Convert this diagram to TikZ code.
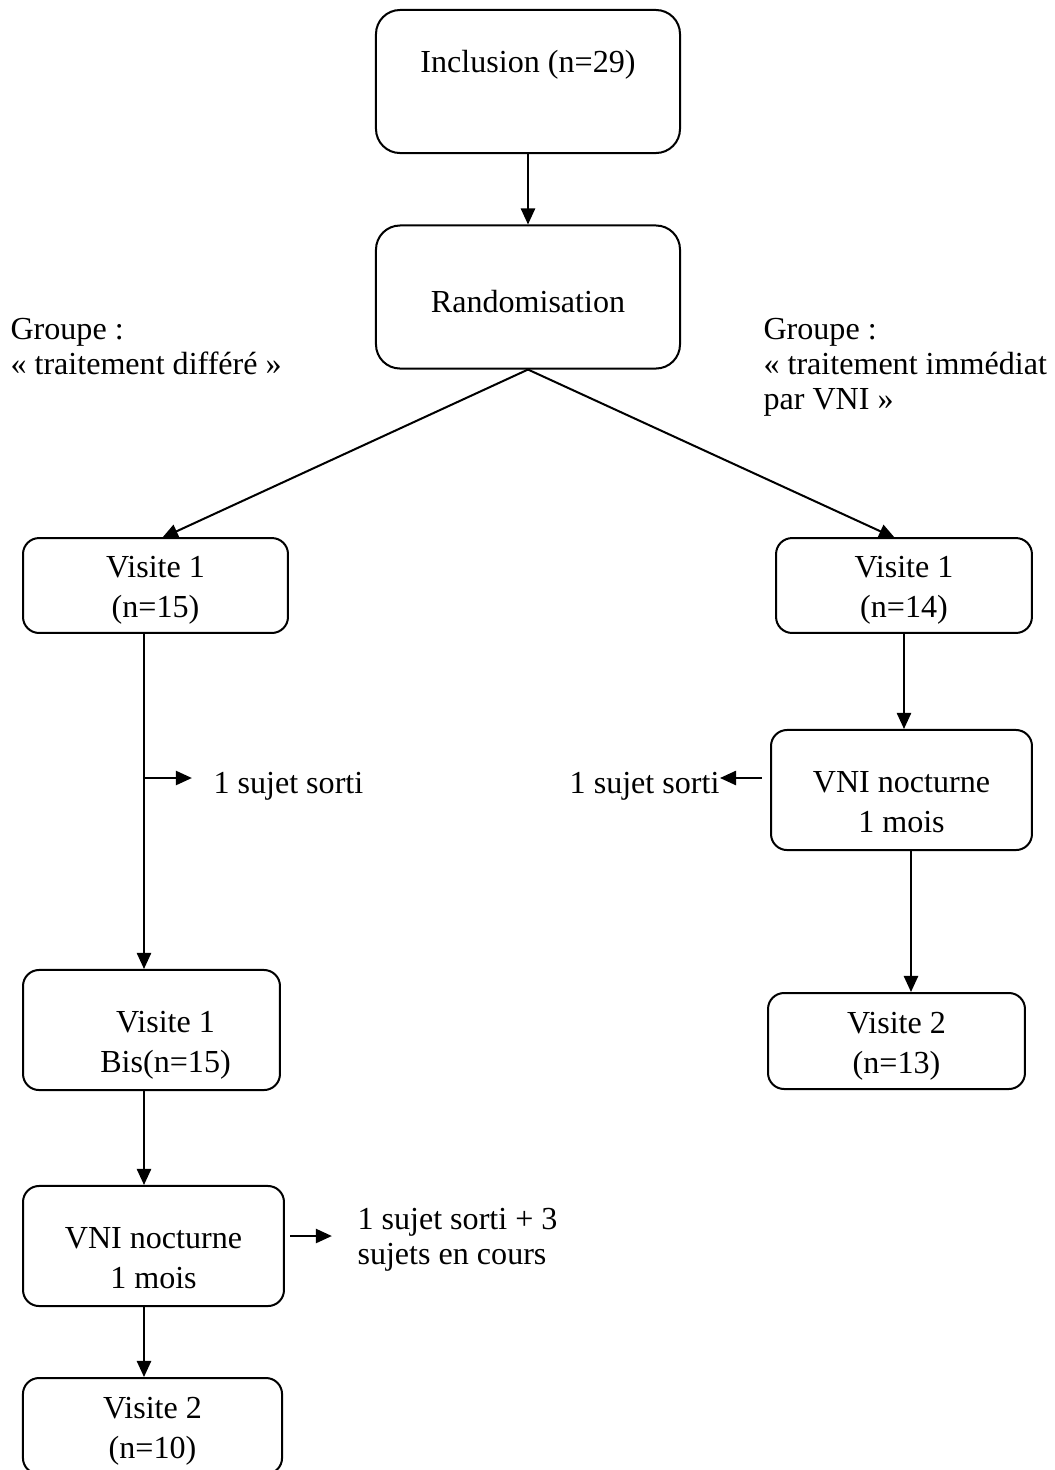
\documentclass[tikz,border=0pt]{standalone}
\usepackage{fontspec}
\setmainfont{Liberation Serif}
\usetikzlibrary{arrows.meta}

\begin{document}
\begin{tikzpicture}[x=0.374pt, y=-0.374pt,
    box/.style={draw, line width=0.75pt, rounded corners=6pt, align=center, inner sep=0pt, font=\fontsize{12}{15}\selectfont},
    lbl/.style={align=left, inner sep=0pt, font=\fontsize{12}{13}\selectfont},
    arr/.style={line width=0.75pt, -{Triangle[length=6pt,width=5.3pt]}}]
    \useasboundingbox (0,0) rectangle (1054,1470);

    % Define coordinates for the columns, rows and arrow tips
    \coordinate (colL) at (144,0);
    \coordinate (colR) at (904,0);
    \coordinate (colR2) at (911,0);
    \coordinate (rowA) at (0,778);
    \coordinate (rowB) at (0,1236);
    \coordinate (tipL) at (162,538);
    \coordinate (tipR) at (895,538);

    % Common trunk
    \node[box, rounded corners=9pt, minimum width=113.7pt, minimum height=53.5pt] (incl) at (528,81.5) {\rule{0pt}{11.8pt}Inclusion (n=29)\rule[-18.2pt]{0pt}{18.2pt}};
    \node[box, rounded corners=9pt, minimum width=113.7pt, minimum height=53.5pt] (rand) at (528,297) {\rule{0pt}{11.8pt}Randomisation};
    \draw[arr] (incl) -- (rand);

    % Group labels
    \node[lbl, anchor=north west] (grpL) at (10,318) {Groupe :\\« traitement différé »};
    \node[lbl, anchor=north west] (grpR) at (763,318) {Groupe :\\« traitement immédiat\\par VNI »};

    % Left branch: deferred treatment
    \node[box, minimum width=99.1pt, minimum height=35.5pt] (visL1) at (155.5,585.5) {\rule{0pt}{11.8pt}Visite 1\\(n=15)};
    \node[box, minimum width=96.1pt, minimum height=44.9pt] (visL1b) at (151.5,1030) {\hspace*{10.5pt}\rule{0pt}{19.5pt}Visite 1\\\hspace*{10.5pt}Bis(n=15)};
    \node[box, minimum width=97.6pt, minimum height=44.9pt] (vniL) at (153.5,1246) {\rule{0pt}{17pt}VNI nocturne\\1 mois};
    \node[box, minimum width=96.9pt, minimum height=35.9pt] (visL2) at (152.5,1426) {\rule{0pt}{11.8pt}Visite 2\\(n=10)};
    \node[lbl, anchor=base west] (sortiL) at (213,793) {1 sujet sorti};
    \node[lbl, anchor=north west] (encours) at (357,1208) {1 sujet sorti + 3\\sujets en cours};

    \draw[arr] (rand.south) -- (tipL);
    \draw[arr] (visL1.south -| colL) -- (visL1b.north -| colL);
    \draw[arr, shorten >=7.9pt] (colL |- rowA) -- (sortiL.west |- rowA);
    \draw[arr] (visL1b.south -| colL) -- (vniL.north -| colL);
    \draw[arr] (vniL.south -| colL) -- (visL2.north -| colL);
    \draw[arr, shorten <=2pt, shorten >=9.4pt] (vniL.east |- rowB) -- (encours.west |- rowB);

    % Right branch: immediate treatment
    \node[box, minimum width=95.7pt, minimum height=35.5pt] (visR1) at (904,585.5) {\rule{0pt}{11.8pt}Visite 1\\(n=14)};
    \node[box, minimum width=97.6pt, minimum height=44.9pt] (vniR) at (901.5,790) {\rule{0pt}{17pt}VNI nocturne\\1 mois};
    \node[box, minimum width=96.1pt, minimum height=35.9pt] (visR2) at (896.5,1041) {\rule{0pt}{11.8pt}Visite 2\\(n=13)};
    \node[lbl, anchor=base east] (sortiR) at (720,793) {1 sujet sorti};

    \draw[arr] (rand.south) -- (tipR);
    \draw[arr] (visR1.south -| colR) -- (vniR.north -| colR);
    \draw[arr, shorten <=3pt] (vniR.west |- rowA) -- (sortiR.east |- rowA);
    \draw[arr] (vniR.south -| colR2) -- (visR2.north -| colR2);
\end{tikzpicture}
\end{document}
